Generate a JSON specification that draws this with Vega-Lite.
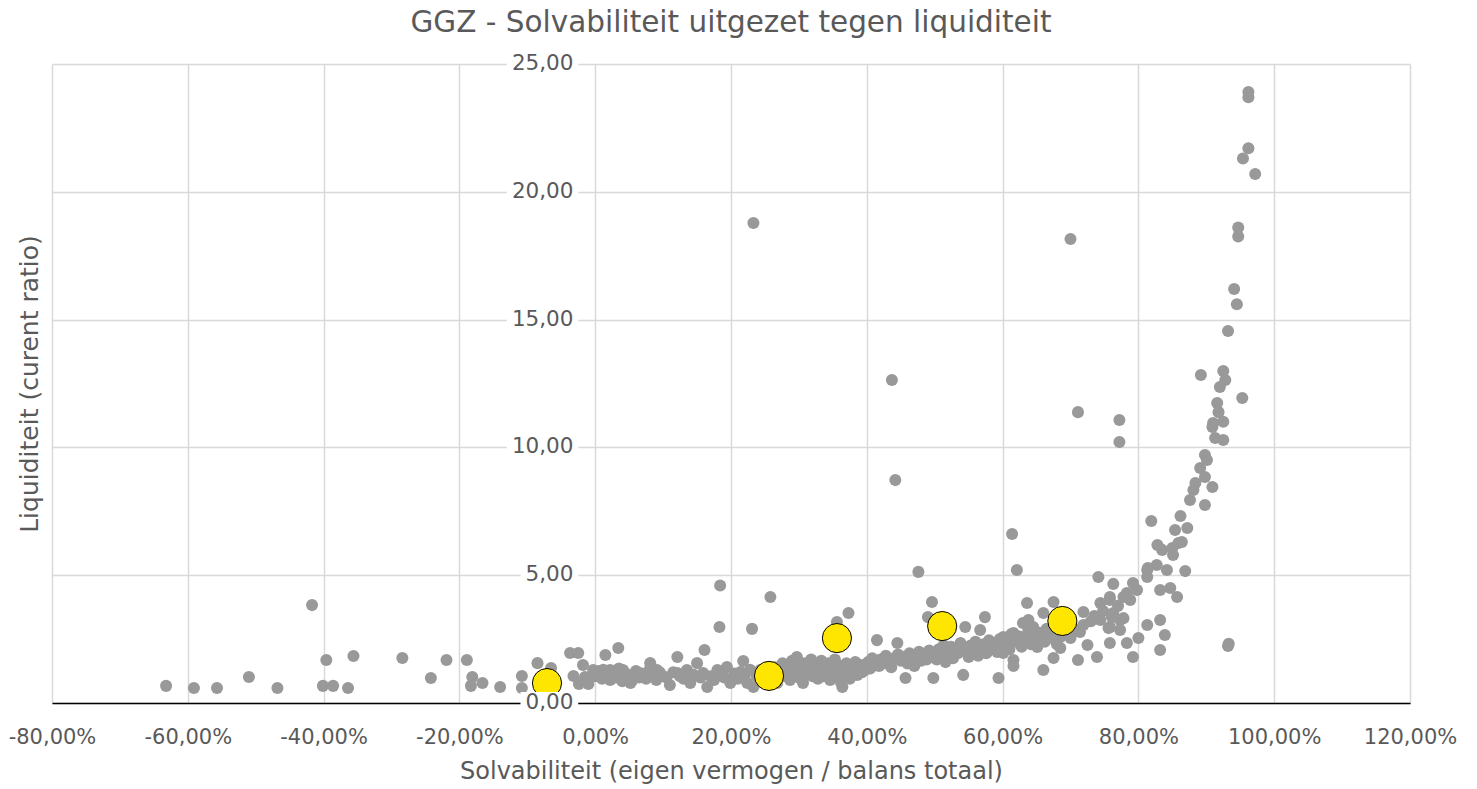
{
  "$schema": "https://vega.github.io/schema/vega-lite/v6.json",
  "width": 1358,
  "height": 639,
  "autosize": {"type": "none"},
  "padding": {"left": 52, "top": 64, "right": 67, "bottom": 86},
  "background": "white",
  "title": {
    "text": "GGZ - Solvabiliteit uitgezet tegen liquiditeit",
    "fontSize": 29.5,
    "font": "DejaVu Sans",
    "fontWeight": "normal",
    "color": "#595959",
    "offset": 15,
    "anchor": "middle"
  },
  "config": {
    "view": {"stroke": null},
    "font": "DejaVu Sans",
    "locale": {"number": {"decimal": ",", "thousands": ".", "grouping": [3], "currency": ["€", ""], "minus": "-"}}
  },
  "datasets": {
    "ggz": [
      {"s": -0.632, "l": 0.67}, {"s": -0.591, "l": 0.59}, {"s": -0.557, "l": 0.59}, {"s": -0.510, "l": 1.02},
      {"s": -0.468, "l": 0.59}, {"s": -0.417, "l": 3.83}, {"s": -0.396, "l": 1.68}, {"s": -0.401, "l": 0.67},
      {"s": -0.386, "l": 0.67}, {"s": -0.364, "l": 0.59}, {"s": -0.356, "l": 1.84}, {"s": -0.284, "l": 1.76},
      {"s": -0.242, "l": 0.98}, {"s": -0.219, "l": 1.68}, {"s": -0.189, "l": 1.68}, {"s": -0.181, "l": 1.02},
      {"s": -0.183, "l": 0.67}, {"s": -0.166, "l": 0.78}, {"s": -0.140, "l": 0.63}, {"s": -0.108, "l": 1.06},
      {"s": -0.108, "l": 0.59}, {"s": -0.085, "l": 1.56}, {"s": -0.065, "l": 1.37}, {"s": -0.037, "l": 1.96},
      {"s": -0.025, "l": 1.96}, {"s": -0.032, "l": 1.06}, {"s": -0.024, "l": 0.74}, {"s": -0.018, "l": 1.49},
      {"s": -0.015, "l": 1.02}, {"s": -0.010, "l": 0.74},
      {"s": -0.003, "l": 1.29}, {"s": 0.000, "l": 1.05}, {"s": 0.005, "l": 1.25}, {"s": 0.007, "l": 1.17},
      {"s": 0.010, "l": 0.95}, {"s": 0.012, "l": 1.30}, {"s": 0.015, "l": 1.88}, {"s": 0.018, "l": 1.10},
      {"s": 0.022, "l": 0.90}, {"s": 0.022, "l": 1.29}, {"s": 0.025, "l": 1.20}, {"s": 0.030, "l": 1.00},
      {"s": 0.034, "l": 2.15}, {"s": 0.035, "l": 1.35}, {"s": 0.040, "l": 0.85}, {"s": 0.041, "l": 1.29},
      {"s": 0.045, "l": 1.15}, {"s": 0.050, "l": 1.05}, {"s": 0.052, "l": 0.78}, {"s": 0.055, "l": 0.90},
      {"s": 0.060, "l": 1.25}, {"s": 0.065, "l": 1.00}, {"s": 0.066, "l": 1.17}, {"s": 0.070, "l": 1.10},
      {"s": 0.075, "l": 0.95}, {"s": 0.080, "l": 1.30}, {"s": 0.081, "l": 1.56}, {"s": 0.085, "l": 1.05},
      {"s": 0.090, "l": 0.90}, {"s": 0.091, "l": 1.29}, {"s": 0.095, "l": 1.20}, {"s": 0.100, "l": 1.05},
      {"s": 0.105, "l": 1.00}, {"s": 0.110, "l": 0.70}, {"s": 0.115, "l": 1.20}, {"s": 0.121, "l": 1.17},
      {"s": 0.121, "l": 1.80}, {"s": 0.125, "l": 1.05}, {"s": 0.130, "l": 0.95}, {"s": 0.135, "l": 1.29},
      {"s": 0.140, "l": 0.78}, {"s": 0.145, "l": 1.10}, {"s": 0.150, "l": 1.56}, {"s": 0.155, "l": 1.00},
      {"s": 0.159, "l": 1.17}, {"s": 0.161, "l": 2.07}, {"s": 0.165, "l": 0.63}, {"s": 0.170, "l": 1.05},
      {"s": 0.175, "l": 0.90}, {"s": 0.180, "l": 1.29}, {"s": 0.183, "l": 2.97}, {"s": 0.184, "l": 4.60},
      {"s": 0.185, "l": 1.10}, {"s": 0.190, "l": 1.00}, {"s": 0.194, "l": 1.41}, {"s": 0.199, "l": 0.78},
      {"s": 0.205, "l": 1.15}, {"s": 0.210, "l": 0.95}, {"s": 0.214, "l": 1.21}, {"s": 0.218, "l": 1.64},
      {"s": 0.220, "l": 1.05}, {"s": 0.224, "l": 0.78}, {"s": 0.228, "l": 1.30}, {"s": 0.231, "l": 2.90},
      {"s": 0.233, "l": 0.63}, {"s": 0.233, "l": 18.78}, {"s": 0.238, "l": 1.05}, {"s": 0.243, "l": 1.29},
      {"s": 0.248, "l": 0.95}, {"s": 0.252, "l": 1.25}, {"s": 0.258, "l": 4.15}, {"s": 0.260, "l": 0.85},
      {"s": 0.265, "l": 1.40}, {"s": 0.268, "l": 0.78}, {"s": 0.272, "l": 1.20}, {"s": 0.276, "l": 1.55},
      {"s": 0.280, "l": 1.05}, {"s": 0.284, "l": 1.35}, {"s": 0.287, "l": 0.90}, {"s": 0.290, "l": 1.65},
      {"s": 0.292, "l": 1.20}, {"s": 0.295, "l": 1.45}, {"s": 0.297, "l": 1.80}, {"s": 0.300, "l": 1.00},
      {"s": 0.302, "l": 1.30}, {"s": 0.306, "l": 0.78}, {"s": 0.308, "l": 1.55}, {"s": 0.310, "l": 1.15},
      {"s": 0.314, "l": 1.40}, {"s": 0.318, "l": 1.70}, {"s": 0.320, "l": 1.05}, {"s": 0.322, "l": 1.30},
      {"s": 0.325, "l": 1.50}, {"s": 0.328, "l": 0.95}, {"s": 0.330, "l": 1.20}, {"s": 0.333, "l": 1.65},
      {"s": 0.336, "l": 1.05}, {"s": 0.338, "l": 1.40}, {"s": 0.340, "l": 1.25}, {"s": 0.343, "l": 1.55},
      {"s": 0.346, "l": 0.90}, {"s": 0.348, "l": 1.15}, {"s": 0.350, "l": 1.35}, {"s": 0.353, "l": 1.70},
      {"s": 0.356, "l": 1.05}, {"s": 0.356, "l": 3.17}, {"s": 0.358, "l": 1.25}, {"s": 0.360, "l": 1.45},
      {"s": 0.362, "l": 0.80}, {"s": 0.364, "l": 0.63}, {"s": 0.365, "l": 1.10}, {"s": 0.368, "l": 1.35},
      {"s": 0.370, "l": 1.55}, {"s": 0.373, "l": 1.20}, {"s": 0.373, "l": 3.52}, {"s": 0.375, "l": 0.95},
      {"s": 0.378, "l": 1.40}, {"s": 0.380, "l": 1.25}, {"s": 0.383, "l": 1.60}, {"s": 0.386, "l": 1.10},
      {"s": 0.388, "l": 1.35}, {"s": 0.390, "l": 1.50}, {"s": 0.393, "l": 1.20}, {"s": 0.396, "l": 1.45},
      {"s": 0.398, "l": 1.30}, {"s": 0.402, "l": 1.60}, {"s": 0.405, "l": 1.35}, {"s": 0.408, "l": 1.75},
      {"s": 0.412, "l": 1.50}, {"s": 0.415, "l": 2.46}, {"s": 0.418, "l": 1.45}, {"s": 0.420, "l": 1.70},
      {"s": 0.424, "l": 1.55}, {"s": 0.428, "l": 1.85}, {"s": 0.432, "l": 1.60}, {"s": 0.436, "l": 1.40},
      {"s": 0.437, "l": 12.64}, {"s": 0.440, "l": 1.75}, {"s": 0.442, "l": 8.72}, {"s": 0.445, "l": 2.35},
      {"s": 0.446, "l": 1.90}, {"s": 0.450, "l": 1.65}, {"s": 0.454, "l": 1.80}, {"s": 0.457, "l": 0.98},
      {"s": 0.460, "l": 1.55}, {"s": 0.463, "l": 1.95}, {"s": 0.467, "l": 1.75}, {"s": 0.470, "l": 1.45},
      {"s": 0.473, "l": 1.85}, {"s": 0.476, "l": 5.13}, {"s": 0.477, "l": 2.00}, {"s": 0.480, "l": 1.65},
      {"s": 0.484, "l": 1.90}, {"s": 0.488, "l": 1.70}, {"s": 0.490, "l": 3.36}, {"s": 0.492, "l": 2.05},
      {"s": 0.496, "l": 1.80}, {"s": 0.496, "l": 3.95}, {"s": 0.498, "l": 0.98}, {"s": 0.500, "l": 1.95},
      {"s": 0.503, "l": 1.70}, {"s": 0.506, "l": 2.10}, {"s": 0.510, "l": 1.85}, {"s": 0.513, "l": 2.25},
      {"s": 0.516, "l": 1.60}, {"s": 0.520, "l": 2.00}, {"s": 0.524, "l": 2.20}, {"s": 0.527, "l": 1.75},
      {"s": 0.530, "l": 2.10}, {"s": 0.534, "l": 1.95}, {"s": 0.538, "l": 2.35}, {"s": 0.542, "l": 1.10},
      {"s": 0.545, "l": 2.97}, {"s": 0.546, "l": 2.05}, {"s": 0.550, "l": 1.80}, {"s": 0.553, "l": 2.25},
      {"s": 0.557, "l": 2.00}, {"s": 0.560, "l": 2.40}, {"s": 0.564, "l": 1.85}, {"s": 0.567, "l": 2.86},
      {"s": 0.568, "l": 2.15}, {"s": 0.572, "l": 2.30}, {"s": 0.574, "l": 3.36}, {"s": 0.576, "l": 1.95},
      {"s": 0.580, "l": 2.45}, {"s": 0.584, "l": 2.10}, {"s": 0.588, "l": 2.30}, {"s": 0.592, "l": 2.00},
      {"s": 0.594, "l": 0.98}, {"s": 0.596, "l": 2.50}, {"s": 0.600, "l": 2.20}, {"s": 0.601, "l": 2.58},
      {"s": 0.601, "l": 1.96}, {"s": 0.605, "l": 2.35}, {"s": 0.610, "l": 2.10}, {"s": 0.613, "l": 2.70},
      {"s": 0.614, "l": 6.61}, {"s": 0.616, "l": 2.74}, {"s": 0.616, "l": 1.68}, {"s": 0.616, "l": 1.45},
      {"s": 0.620, "l": 2.40}, {"s": 0.621, "l": 5.20}, {"s": 0.625, "l": 2.60}, {"s": 0.628, "l": 2.20},
      {"s": 0.630, "l": 3.13}, {"s": 0.633, "l": 2.50}, {"s": 0.636, "l": 2.46}, {"s": 0.636, "l": 3.91},
      {"s": 0.638, "l": 2.85}, {"s": 0.638, "l": 3.25}, {"s": 0.642, "l": 2.30}, {"s": 0.645, "l": 2.97},
      {"s": 0.648, "l": 2.60}, {"s": 0.651, "l": 2.19}, {"s": 0.655, "l": 2.75}, {"s": 0.660, "l": 1.29},
      {"s": 0.660, "l": 3.52}, {"s": 0.662, "l": 2.40}, {"s": 0.665, "l": 2.90}, {"s": 0.670, "l": 2.55},
      {"s": 0.675, "l": 1.76}, {"s": 0.675, "l": 3.95}, {"s": 0.678, "l": 2.80}, {"s": 0.680, "l": 2.30},
      {"s": 0.685, "l": 2.58}, {"s": 0.685, "l": 2.15}, {"s": 0.690, "l": 2.95}, {"s": 0.695, "l": 2.70},
      {"s": 0.700, "l": 2.54}, {"s": 0.700, "l": 3.30}, {"s": 0.700, "l": 18.15}, {"s": 0.705, "l": 2.90},
      {"s": 0.711, "l": 1.68}, {"s": 0.711, "l": 11.38}, {"s": 0.714, "l": 2.78}, {"s": 0.719, "l": 3.05},
      {"s": 0.719, "l": 3.56}, {"s": 0.725, "l": 2.27}, {"s": 0.730, "l": 3.20}, {"s": 0.735, "l": 3.40},
      {"s": 0.739, "l": 1.80}, {"s": 0.741, "l": 4.93}, {"s": 0.744, "l": 3.25}, {"s": 0.744, "l": 3.91},
      {"s": 0.748, "l": 3.60}, {"s": 0.756, "l": 2.93}, {"s": 0.758, "l": 2.35}, {"s": 0.758, "l": 2.97},
      {"s": 0.758, "l": 4.03}, {"s": 0.758, "l": 4.15}, {"s": 0.761, "l": 3.36}, {"s": 0.763, "l": 3.52},
      {"s": 0.763, "l": 4.66}, {"s": 0.770, "l": 3.80}, {"s": 0.772, "l": 11.07}, {"s": 0.772, "l": 10.21},
      {"s": 0.773, "l": 2.86}, {"s": 0.773, "l": 3.25}, {"s": 0.778, "l": 3.32}, {"s": 0.778, "l": 4.15},
      {"s": 0.783, "l": 2.35}, {"s": 0.783, "l": 4.30}, {"s": 0.788, "l": 4.03}, {"s": 0.792, "l": 1.80},
      {"s": 0.792, "l": 4.69}, {"s": 0.798, "l": 4.42}, {"s": 0.800, "l": 2.54}, {"s": 0.813, "l": 3.05},
      {"s": 0.813, "l": 4.93}, {"s": 0.813, "l": 5.20}, {"s": 0.814, "l": 5.28}, {"s": 0.819, "l": 7.12},
      {"s": 0.827, "l": 5.40}, {"s": 0.828, "l": 6.18}, {"s": 0.832, "l": 2.07}, {"s": 0.832, "l": 3.25},
      {"s": 0.832, "l": 4.42}, {"s": 0.835, "l": 5.99}, {"s": 0.839, "l": 2.66}, {"s": 0.842, "l": 5.20},
      {"s": 0.847, "l": 4.50}, {"s": 0.850, "l": 6.06}, {"s": 0.851, "l": 5.79}, {"s": 0.854, "l": 6.77},
      {"s": 0.857, "l": 4.15}, {"s": 0.859, "l": 6.26}, {"s": 0.862, "l": 7.32}, {"s": 0.864, "l": 6.30},
      {"s": 0.869, "l": 5.16}, {"s": 0.872, "l": 6.85}, {"s": 0.876, "l": 7.94}, {"s": 0.881, "l": 8.33},
      {"s": 0.884, "l": 8.61}, {"s": 0.891, "l": 9.19}, {"s": 0.892, "l": 12.83}, {"s": 0.898, "l": 8.84},
      {"s": 0.898, "l": 9.70}, {"s": 0.898, "l": 7.75}, {"s": 0.901, "l": 9.51}, {"s": 0.909, "l": 8.45},
      {"s": 0.909, "l": 10.80}, {"s": 0.910, "l": 10.95}, {"s": 0.913, "l": 10.37}, {"s": 0.916, "l": 11.74},
      {"s": 0.918, "l": 11.38}, {"s": 0.920, "l": 12.36}, {"s": 0.925, "l": 11.00}, {"s": 0.925, "l": 10.29},
      {"s": 0.925, "l": 12.99}, {"s": 0.928, "l": 12.64}, {"s": 0.932, "l": 14.55}, {"s": 0.932, "l": 2.23},
      {"s": 0.933, "l": 2.32}, {"s": 0.941, "l": 16.20}, {"s": 0.945, "l": 15.60}, {"s": 0.947, "l": 18.60},
      {"s": 0.947, "l": 18.25}, {"s": 0.953, "l": 11.93}, {"s": 0.954, "l": 21.30}, {"s": 0.962, "l": 21.70},
      {"s": 0.962, "l": 23.90}, {"s": 0.962, "l": 23.70}, {"s": 0.972, "l": 20.70}
    ],
    "sel": [
      {"s": -0.071, "l": 0.78}, {"s": 0.256, "l": 1.06}, {"s": 0.356, "l": 2.54},
      {"s": 0.511, "l": 3.01}, {"s": 0.688, "l": 3.21}
    ],
    "ticks": [
      {"v": 0}, {"v": 5}, {"v": 10}, {"v": 15}, {"v": 20}, {"v": 25}
    ]
  },
  "layer": [
    {
      "data": {"name": "ggz"},
      "mark": {"type": "circle", "size": 145, "color": "#999999", "opacity": 1},
      "encoding": {
        "x": {
          "field": "s", "type": "quantitative",
          "scale": {"domain": [-0.8, 1.2], "nice": false, "zero": false},
          "axis": {
            "title": "Solvabiliteit (eigen vermogen / balans totaal)",
            "values": [-0.8, -0.6, -0.4, -0.2, 0, 0.2, 0.4, 0.6, 0.8, 1.0, 1.2],
            "format": ".2%",
            "grid": true, "gridColor": "#d9d9d9", "gridWidth": 1.5,
            "domain": true, "domainColor": "#000000", "domainWidth": 1.5,
            "ticks": false, "labelPadding": 23, "labelFontSize": 21, "labelColor": "#595959",
            "labelFont": "DejaVu Sans", "labelFlush": false, "labelOverlap": false,
            "titleFontSize": 24, "titleFontWeight": "normal", "titleColor": "#595959",
            "titleFont": "DejaVu Sans", "titlePadding": 12
          }
        },
        "y": {
          "field": "l", "type": "quantitative",
          "scale": {"domain": [0, 25], "nice": false},
          "axis": {
            "title": "Liquiditeit (curent ratio)",
            "values": [0, 5, 10, 15, 20, 25],
            "grid": true, "gridColor": "#d9d9d9", "gridWidth": 1.5,
            "domain": false, "ticks": false, "labels": false,
            "titleFontSize": 25, "titleFontWeight": "normal", "titleColor": "#595959",
            "titleFont": "DejaVu Sans", "titlePadding": 10
          }
        }
      }
    },
    {
      "data": {"name": "sel"},
      "mark": {"type": "circle", "size": 850, "color": "#FFE600", "opacity": 1, "stroke": "#000000", "strokeWidth": 1},
      "encoding": {
        "x": {"field": "s", "type": "quantitative"},
        "y": {"field": "l", "type": "quantitative"}
      }
    },
    {
      "mark": {"type": "rule", "color": "#000000", "strokeWidth": 1.5},
      "encoding": {
        "x": {"datum": 0, "type": "quantitative"},
        "y": {"datum": 0, "type": "quantitative"},
        "y2": {"datum": 25}
      }
    },
    {
      "data": {"name": "ticks"},
      "transform": [{"filter": "datum.v >= 10"}],
      "mark": {"type": "rect", "color": "#ffffff", "yOffset": -11, "y2Offset": 11},
      "encoding": {
        "x": {"datum": -0.13, "type": "quantitative"},
        "x2": {"datum": -0.025},
        "y": {"field": "v", "type": "quantitative"},
        "y2": {"field": "v"}
      }
    },
    {
      "data": {"name": "ticks"},
      "transform": [{"filter": "datum.v < 10"}],
      "mark": {"type": "rect", "color": "#ffffff", "yOffset": -11, "y2Offset": 11},
      "encoding": {
        "x": {"datum": -0.11, "type": "quantitative"},
        "x2": {"datum": -0.025},
        "y": {"field": "v", "type": "quantitative"},
        "y2": {"field": "v"}
      }
    },
    {
      "data": {"name": "ticks"},
      "mark": {"type": "text", "align": "right", "baseline": "middle", "fontSize": 21.5, "font": "DejaVu Sans", "color": "#595959"},
      "encoding": {
        "x": {"datum": -0.032, "type": "quantitative"},
        "y": {"field": "v", "type": "quantitative"},
        "text": {"field": "v", "type": "quantitative", "format": ".2f"}
      }
    }
  ]
}
